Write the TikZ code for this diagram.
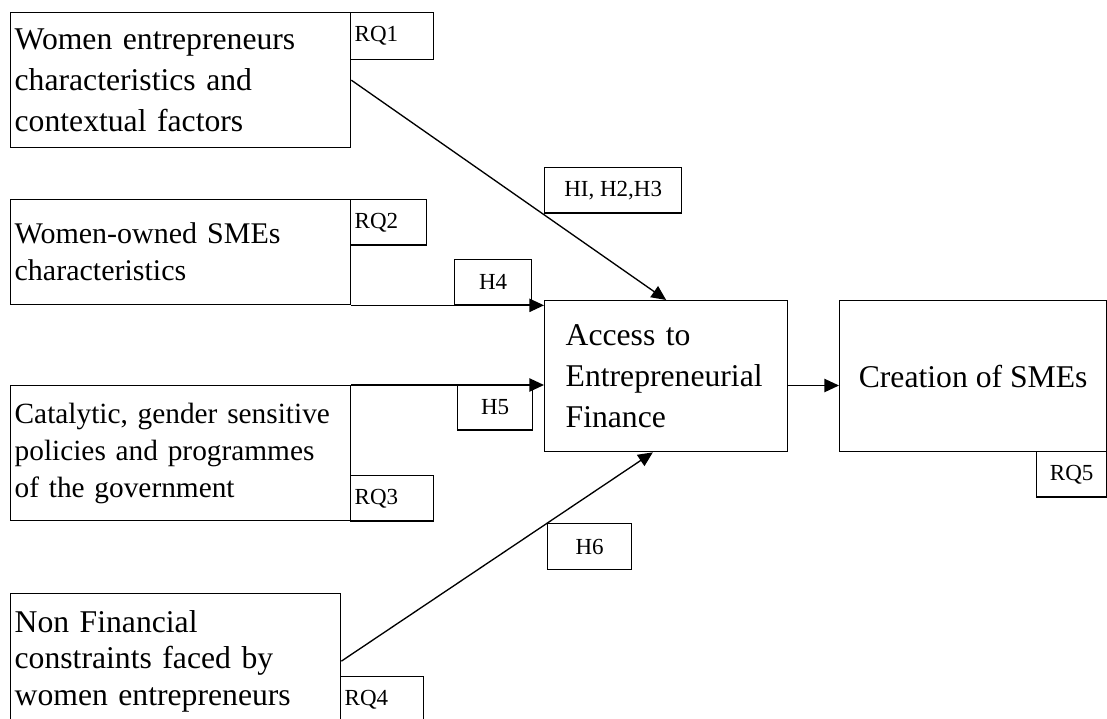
\documentclass[tikz,border=0pt]{standalone}
\usepackage{fontspec}
\setmainfont{Liberation Serif}
\usetikzlibrary{arrows.meta, positioning}
\tikzset{
  every picture/.style={line width=1pt},
  box/.style={draw, anchor=north west, align=left, inner xsep=3pt, inner ysep=0pt, font=\fontsize{23.75}{27.75}\selectfont},
  tag/.style={draw, anchor=north west, inner xsep=3pt, inner ysep=0pt, minimum height=34pt, font=\fontsize{17.25}{20}\selectfont},
  rq/.style={tag, align=left, text width=#1},
  arrow/.style={-{Triangle[length=11pt, width=10pt]}},
}

\begin{document}
\begin{tikzpicture}[x=0.75pt, y=-0.75pt]
  \useasboundingbox (0,0) rectangle (1107,718);
  % factors on the left
  \node[box, text width=249pt, minimum height=101.25pt, font=\fontsize{23.75}{30.75}\selectfont] (wecf) at (10,12) {Women entrepreneurs\\characteristics and\\contextual factors};
  \node[rq=56.25pt, minimum height=35.25pt] (rq1) at (350,12) {RQ1};
  \node[box, text width=249pt, minimum height=78.75pt, font=\fontsize{22.5}{27.75}\selectfont] (wosme) at (10,199) {Women-owned SMEs\\characteristics};
  \node[rq=51pt] (rq2) at (350,199) {RQ2};
  \node[box, text width=249pt, minimum height=101.25pt, font=\fontsize{22}{27.75}\selectfont] (policy) at (10,385) {Catalytic, gender sensitive\\policies and programmes\\of the government};
  \node[rq=56.25pt] (rq3) at (350,475) {RQ3};
  \node[box, text width=241.5pt, minimum height=101.25pt, font=\fontsize{23.75}{27.4}\selectfont] (constr) at (10,593) {Non Financial\\constraints faced by\\women entrepreneurs};
  \node[rq=56.25pt] (rq4) at (340,676) {RQ4};
  % middle and outcome
  \node[box, inner xsep=15.75pt, text width=150.75pt, minimum height=113.25pt, font=\fontsize{23.75}{31}\selectfont] (access) at (544,300) {Access to\\Entrepreneurial\\Finance};
  \node[box, align=center, minimum width=200.25pt, minimum height=113.25pt] (creation) at (839,300) {Creation of SMEs};
  \node[tag, minimum width=52.5pt] (rq5) at (1036,451) {RQ5};
  % hypotheses
  \node[tag, minimum width=102.75pt] (hone) at (544,167) {HI, H2,H3};
  \node[tag, minimum width=57.75pt] (h4) at (454,259) {H4};
  \node[tag, minimum width=56.25pt] (h5) at (457,384) {H5};
  \node[tag, minimum width=63pt, minimum height=34.5pt] (h6) at (547,523) {H6};
  % links
  \draw[arrow] (wecf.east) -- (access.north);
  \draw[arrow] (wosme.south east) -- (wosme.south east -| access.west);
  \draw[arrow] (policy.north east) -- (policy.north east -| access.west);
  \draw[arrow] (constr.east) -- ([xshift=-10pt]access.south);
  \draw[arrow] ([yshift=-7pt]access.east) -- ([yshift=-7pt]access.east -| creation.west);
\end{tikzpicture}
\end{document}
